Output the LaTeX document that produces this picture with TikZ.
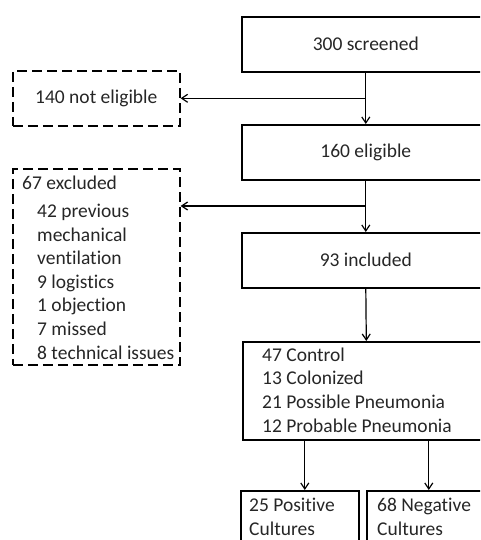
\documentclass[tikz,border=0pt]{standalone}
\usepackage{fontspec}
\setmainfont{Carlito}[Ligatures=NoCommon]
\usetikzlibrary{arrows.meta}
\begin{document}
\begin{tikzpicture}[x=1pt,y=-1pt,
  box/.style={draw, line width=1.6pt, rectangle, inner sep=0pt},
  dbox/.style={draw, line width=1.6pt, dash pattern=on 10pt off 5pt, rectangle, inner sep=0pt},
  txt/.style={font=\fontsize{19.5}{23.6}\selectfont, text=black!85, inner sep=0pt, align=left},
  arr/.style={line width=1.2pt, -{Straight Barb[length=6pt,width=8pt]}}]
\useasboundingbox (0,0) rectangle (480,540);
\clip (0,0) rectangle (480,540);
% boxes
\node[box, minimum width=248pt, minimum height=55pt, anchor=north west] (s) at (241,16) {};
\node[dbox, minimum width=167pt, minimum height=55pt, anchor=north west] (ne) at (12,70) {};
\node[box, minimum width=248pt, minimum height=55pt, anchor=north west] (e) at (241,124) {};
\node[dbox, minimum width=167pt, minimum height=196pt, anchor=north west] (ex) at (12,168) {};
\node[box, minimum width=248pt, minimum height=55pt, anchor=north west] (i) at (241,232) {};
\node[box, minimum width=247pt, minimum height=98pt, anchor=north west] (l) at (242,341) {};
\node[box, minimum width=118pt, minimum height=80pt, anchor=north west] (p) at (240,490) {};
\node[box, minimum width=118pt, minimum height=80pt, anchor=north west] (n) at (366,490) {};
% texts
\node[txt] (st) at (s.center) {300 screened};
\node[txt] (net) at (ne.center) {140 not eligible};
\node[txt] (et) at (e.center) {160 eligible};
\node[txt] (it) at (i.center) {93 included};
\node[txt, anchor=base west] (ext) at (22,189) {67 excluded};
\node[txt, anchor=base west] (exl) at (37,359) {42 previous\\mechanical\\ventilation\\9 logistics\\1 objection\\7 missed\\8 technical issues};
\node[txt, anchor=base west] (lt) at (262,432) {47 Control\\13 Colonized\\21 Possible Pneumonia\\12 Probable Pneumonia};
\node[txt, anchor=base west] (pt) at (249,535) {25 Positive\\Cultures};
\node[txt, anchor=base west] (nt) at (377,535) {68 Negative\\Cultures};
% connectors
\draw[arr] (s.south) -- (e.north);
\draw[arr] (s.south |- ne.east) -- (ne.east);
\draw[arr] (e.south) -- (i.north);
\coordinate (xj) at (365,206);
\draw[arr] (xj) -- (xj -| ex.east);
\draw[arr] (i.south) -- (l.north);
\coordinate (pa) at ([xshift=5pt]p.north);
\coordinate (na) at ([xshift=3pt]n.north);
\draw[arr] (l.south -| pa) -- (pa);
\draw[arr] (l.south -| na) -- (na);
\end{tikzpicture}
\end{document}
